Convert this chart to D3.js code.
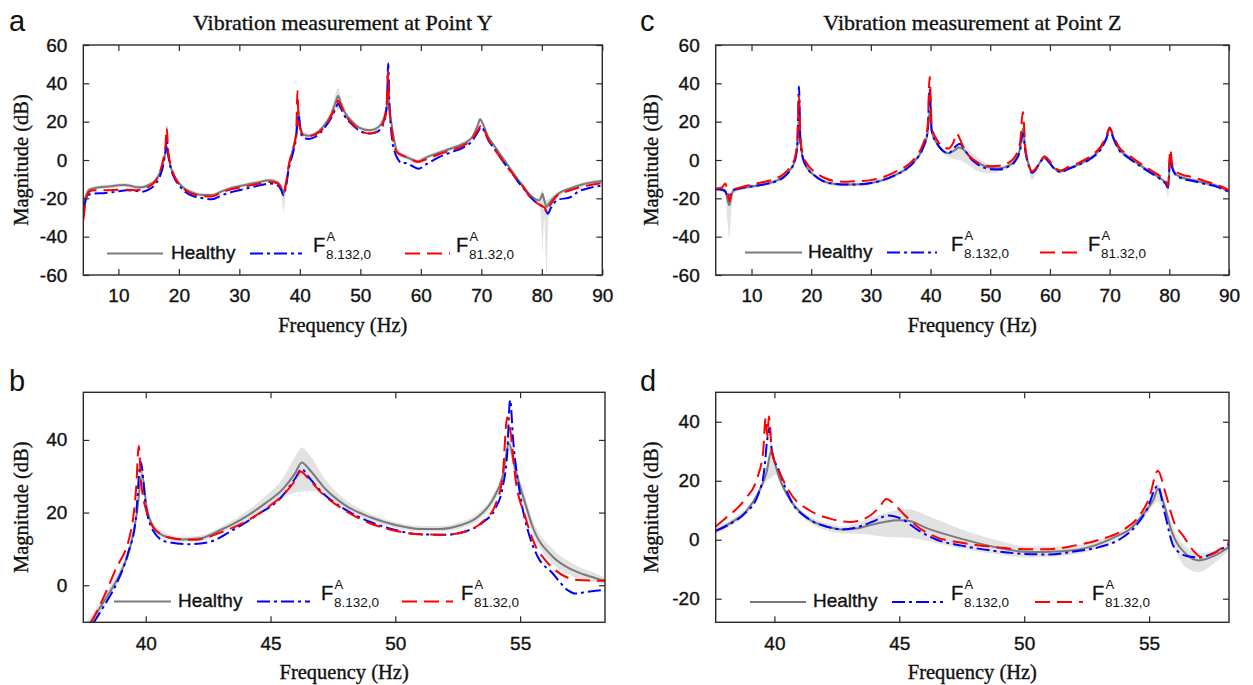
<!DOCTYPE html>
<html><head><meta charset="utf-8">
<script src="https://cdn.jsdelivr.net/npm/d3@7"></script>
<style>body{margin:0;background:#fff}svg{display:block}</style>
</head><body>
<svg id="chart" width="1253" height="685"></svg>
<script>
// ---------- DATA ----------
// healthy entries: [freq, mean dB, band lower dB, band upper dB]
const aHealthy = [[4.2,-24,-28,-21],[4.6,-19,-21,-17],[5.2,-15.5,-17,-14.5],[6,-14.7,-15.7,-13.7],[7,-14.2,-15.2,-13.2],[8.5,-13.8,-14.8,-12.8],[10,-13.2,-14.2,-12.2],[11,-13,-14,-12],[12,-13.4,-14.4,-12.4],[13,-14.2,-15.2,-13.2],[14,-14.2,-15.2,-13.2],[15,-13,-14,-12],[16,-11,-12,-10],[16.8,-7,-8,-6],[17.4,-1,-2,0],[17.8,4,2,6],[18.0,7,5,9],[18.2,3,1,5],[18.6,-3,-4,-2],[19.2,-8,-9,-7],[20,-12,-13,-11],[21,-15,-16,-14],[22.5,-17.3,-18.3,-16.3],[24,-18.3,-19.3,-17.3],[25.5,-18.3,-19.3,-17.3],[27,-16.5,-17.5,-15.5],[29,-14.3,-15.3,-13.3],[31,-13,-14,-12],[33,-11.7,-12.7,-10.7],[35,-10.6,-11.6,-9.6],[36.2,-11.5,-12.5,-10.5],[36.9,-14,-16,-12.5],[37.3,-17.5,-27,-15],[37.7,-13,-17,-11],[38.2,-3,-5,-1],[38.8,5,3,7],[39.4,14,12,16],[39.75,26,22,28],[40.1,17,15,19],[40.6,13.2,12,14.5],[41.5,12.6,11.5,13.8],[42.5,13.6,12.6,14.6],[44,18,17,19.5],[45.2,24,22.5,26.5],[46,31,27,35.5],[46.3,33.5,26,38],[46.7,30.5,26.5,34],[47.5,24.5,23,26.5],[48.5,20.5,19.5,21.5],[50,16.6,15.6,17.6],[51.5,15.5,14.5,16.5],[52.5,16.2,15.2,17.2],[53.5,19,18,20],[54.1,24,22.5,25.5],[54.5,30,27,33],[54.65,33,29,35],[54.9,25,23,27],[55.4,14,12.5,15.5],[56,5,3.5,7],[56.7,2.8,1.5,4.5],[58,1,0,2.5],[59.5,-0.7,-1.7,0.5],[61,1.5,0.5,2.5],[63,3.8,2.8,4.8],[65,6,5,7],[67,8.5,7.5,9.5],[68.5,12,11,13],[69.4,18,17,19],[69.8,21.2,20,22.2],[70.3,18.5,17.5,19.5],[71,13,12,14],[72,8,7,9],[73,3.5,2.5,4.5],[74,-1,-2,0],[75,-5.5,-6.5,-4.5],[76,-10,-11,-9],[77,-14,-15,-13],[78,-18,-19.5,-17],[79,-20.5,-22,-19.5],[79.6,-21,-24,-19.5],[80.0,-18.5,-40,-16],[80.1,-17.6,-48,-15],[80.4,-21,-30,-19],[80.8,-24.5,-60,-21],[81.1,-23,-30,-20.5],[82,-19.5,-21,-18],[83,-17,-18.5,-16],[85,-14.5,-15.5,-13.5],[87,-12.5,-13.5,-11.5],[90,-11,-12,-10]];
const aF8 = [[4.2,-27],[4.6,-21],[5.2,-18],[6,-17.5],[7.5,-17.3],[9,-16.8],[10,-16.3],[11.5,-15.8],[13,-16.2],[14,-16.5],[15,-15.5],[16,-13],[16.8,-9],[17.4,-3],[17.8,5],[18.0,11],[18.2,4],[18.6,-3.5],[19.2,-9],[20,-13],[21,-16.5],[22.5,-19],[24,-20],[25.5,-20.5],[27,-18.5],[29,-16.5],[31,-15],[33,-13.5],[35,-12.3],[36.2,-13],[36.9,-15.5],[37.3,-18.4],[37.7,-14],[38.2,-4],[38.8,3],[39.4,12],[39.75,23.5],[40.1,15],[40.6,11.5],[41.5,11],[42.5,12],[44,16.5],[45.2,22],[46,27.5],[46.3,29.5],[46.7,27.5],[47.5,22.5],[48.5,19],[50,15],[51.5,13.8],[52.5,14.3],[53.5,17],[54.1,22],[54.4,30],[54.6,50.3],[54.8,30],[55.2,12],[55.7,4],[56.3,0],[56.9,-1.9],[57.5,-1.5],[58.5,-3],[59.6,-4.5],[61,-2],[63,1.5],[65,4],[67,6.5],[68.5,10],[69.5,15],[70,17.2],[70.5,15],[71.2,10],[72,6.5],[73,2],[74,-2.5],[75,-6.5],[76,-11],[77,-15],[78,-19],[79,-22],[80,-24],[80.5,-25.5],[81,-28],[81.5,-25],[82.5,-21],[84.8,-19.3],[86,-16.5],[88,-14.5],[90,-13.3]];
const aF81 = [[4.2,-31.5],[4.6,-22],[5.2,-16.5],[6,-15.8],[8,-15.8],[10,-15.5],[12,-15.5],[13,-15.8],[14,-15],[15,-14],[16,-11.5],[16.8,-7],[17.4,0],[17.8,8],[18.0,17],[18.2,6],[18.6,-2],[19.2,-8],[20,-12.5],[21,-15.5],[22.5,-18],[24,-18.8],[25.5,-19],[27,-17],[29,-15],[31,-13.8],[33,-12.5],[35,-11.5],[36.2,-12],[36.9,-14.5],[37.3,-17],[37.7,-12],[38.2,-2],[38.8,5],[39.4,14],[39.6,36],[39.8,20],[40.1,16],[40.6,13],[41.5,12.5],[42.5,13.2],[44,17],[45.2,23],[46,29],[46.3,31.1],[46.7,29],[47.5,23.5],[48.5,19.5],[50,15.2],[51.5,13.8],[52.5,14.5],[53.5,17.5],[54.1,23],[54.4,32],[54.55,46],[54.8,28],[55.2,15],[55.7,6],[56.3,3.3],[57,2.4],[58,1],[59.5,-1],[61,0.5],[63,3],[65,5],[67,7.5],[68.5,11],[69.5,16],[70,18.1],[70.5,15.5],[71.2,10.5],[72,6.5],[73,2],[74,-2.5],[75,-6.5],[76,-10.5],[77,-14.5],[78,-19],[79,-22],[80,-24],[80.5,-25],[80.8,-27.2],[81.3,-24],[82.4,-19],[84,-16.5],[86,-14.5],[88,-13],[90,-12]];

const cHealthy = [[4,-15,-16,-14],[5,-15.3,-16.5,-14.5],[5.6,-16,-18,-15],[6.0,-21,-33,-18],[6.3,-23.6,-41,-19],[6.6,-19,-27,-16.5],[7,-16,-18,-15],[8,-15,-16,-14],[10,-13.8,-14.8,-12.8],[12,-12.8,-13.8,-11.8],[14,-11,-12,-10],[15.5,-8.5,-9.5,-7.5],[16.5,-5,-6,-4],[17.3,0,-1,1],[17.7,8,6,10],[17.95,22.4,18,41],[18.2,9,7,11],[18.6,1,0,2],[19.3,-4,-5,-3],[20.5,-8,-9,-7],[22,-11,-12,-10],[24,-12.5,-13.5,-11.5],[26,-12.8,-13.8,-11.8],[28,-12.7,-13.7,-11.7],[30,-12,-13,-11],[32,-10.5,-11.5,-9.5],[34,-8,-9,-7],[36,-4.5,-5.5,-3.5],[37.5,0,-1,1],[38.7,6,5,7],[39.5,14,12,16],[39.85,25,21,36],[40.2,15,13,17],[41,9,8,10],[42,5,4,6],[43,3.5,1.5,4.5],[44,5,0.5,7],[44.8,6.5,0,9],[45.5,5.5,-1,8],[46.5,2,-3,5],[48,-1.5,-6,1],[50,-4,-7,-2.5],[51.5,-4.3,-6,-3],[53,-3,-4.5,-2],[54.2,0,-1,1],[55,6,4.5,7.5],[55.45,16.3,13,19],[55.9,5,3,6.5],[56.5,-3,-6,-2],[57,-6.5,-10.5,-5],[57.6,-5,-8,-4],[58.5,-0.5,-2,0.5],[59.1,1,0,2],[59.8,-1,-2,0],[60.8,-4.5,-5.5,-3.5],[61.8,-6,-7,-5],[63,-4.5,-5.5,-3.5],[65,-2,-3,-1],[67,1.5,0.5,2.5],[68.5,6,5,7],[69.5,12,11,13],[70,16.5,15.5,17.5],[70.6,12,11,13],[71.5,6,5,7],[73,2,1,3],[75,-2.5,-3.5,-1.5],[77,-6.5,-7.5,-5.5],[78.5,-9.5,-10.5,-8.5],[79.4,-12,-13.5,-11],[79.8,-14,-20,-12.5],[80.15,0,-2,3],[80.5,-4,-5,-3],[81,-7,-8,-6],[82,-9,-10,-8],[84,-10.5,-11.5,-9.5],[86,-12,-13,-11],[88,-13.5,-14.5,-12.5],[90,-16.5,-17.5,-15.5]];
const cF8 = [[4,-15.2],[5,-15.5],[5.6,-16.5],[6.0,-18.5],[6.3,-19],[6.6,-17],[7,-15.5],[8,-14.8],[10,-13.8],[12,-12.8],[14,-11.2],[15.5,-8.8],[16.5,-5.2],[17.3,0],[17.7,10],[17.95,38.4],[18.2,10],[18.6,1],[19.3,-4],[20.5,-8],[22,-11],[24,-12.5],[26,-12.8],[28,-12.7],[30,-12],[32,-10.5],[34,-8],[36,-4.5],[37.5,0],[38.7,6],[39.5,15],[39.85,37],[40.2,15],[41,9],[42,5],[43,3.5],[44,6.5],[44.9,8.5],[45.6,6],[46.5,1.5],[48,-2.5],[50,-4.8],[51.5,-5],[53,-3.5],[54.2,-0.5],[55,5],[55.45,14],[55.9,4],[56.5,-3.5],[57,-6.8],[57.6,-5],[58.5,-0.5],[59.1,1.2],[59.8,-1],[60.8,-4.8],[61.8,-6.3],[63,-4.8],[65,-2.3],[67,1],[68.5,5.5],[69.5,11.5],[70,16.2],[70.6,11.5],[71.5,5.5],[73,1.5],[75,-3],[77,-7],[78.5,-10],[79.4,-12.5],[79.8,-14.5],[80.15,2.4],[80.5,-4],[81,-7.5],[82,-9.5],[84,-11],[86,-12.5],[88,-14],[90,-16.7]];
const cF81 = [[4,-15],[5,-14.5],[5.6,-12.3],[6.0,-17],[6.3,-21.5],[6.6,-18],[7,-15.5],[8,-14.5],[10,-12.8],[12,-11.5],[14,-9.8],[15.5,-7],[16.5,-3.5],[17.3,1.5],[17.7,12],[17.95,33.7],[18.2,12],[18.6,3],[19.3,-2],[20.5,-6],[22,-9],[24,-11],[26,-11.3],[28,-11],[30,-10.5],[32,-9],[34,-6.3],[36,-3],[37.5,1.5],[38.7,8],[39.5,17],[39.85,43.5],[40.2,17],[41,11],[42,7],[43,6],[43.8,9],[44.4,13.8],[44.9,11],[45.6,6],[46.5,2],[48,-1.5],[50,-3.2],[51.5,-3],[53,-1.5],[54.2,2],[55,9],[55.45,25],[55.9,6],[56.5,-3],[57,-6],[57.6,-4.5],[58.5,0],[59.1,2],[59.8,0],[60.8,-4],[61.8,-5.5],[63,-3.8],[65,-1.2],[67,2.5],[68.5,7],[69.5,13],[70,17],[70.6,13],[71.5,7],[73,3],[75,-1.5],[77,-5.5],[78.5,-8.5],[79.4,-11],[79.8,-13.5],[80.15,5.5],[80.5,-2.5],[81,-5.5],[82,-7.5],[84,-9],[86,-11],[88,-13],[90,-15.8]];

const bHealthy = [[37.5,-13,-14.5,-11.5],[38.0,-8,-9.5,-6.5],[38.5,-2.5,-4,-1],[39.0,3.5,2.5,5],[39.4,11,10,12.5],[39.65,20,19,21.5],[39.85,30.5,29,32],[40.05,21,20,22.5],[40.35,15.7,14.7,16.7],[40.8,13.4,12.6,14.4],[41.5,12.6,11.9,13.4],[42.2,12.9,12.2,13.7],[43,15.2,14.4,16],[43.8,18,17,19.2],[44.8,22.6,21,24.5],[45.5,26.5,24,29.5],[46.0,31,25.5,35.5],[46.25,33.8,25.8,37.9],[46.6,31.5,26,35.5],[47.2,26.5,25,29],[48.0,22,21,23.5],[49,18.7,17.8,19.7],[50,16.6,15.8,17.4],[51,15.5,14.8,16.3],[51.8,15.5,14.8,16.3],[52.6,16.5,15.7,17.4],[53.3,18.8,17.8,19.9],[53.9,23.5,22.3,24.8],[54.3,30,28.5,31.5],[54.55,39,37,41],[54.8,32,30,34],[55.2,22.6,21,24.5],[55.5,16.1,14.5,18],[56.3,7.9,6,10],[57.1,4.2,2.5,6],[58,2,0.8,3.3],[58.4,1.2,0.2,2.2]];
const bF8 = [[37.9,-10.5],[38.3,-6],[38.8,0],[39.3,9],[39.6,18],[39.8,34],[40.0,22],[40.3,15],[40.8,12],[41.8,11.3],[42.6,12],[43.4,14.8],[44.5,19.5],[45.4,24],[46.0,29.5],[46.25,32],[46.5,30],[47,26],[48,20.8],[49,17.4],[50,15.2],[51,14],[52,13.9],[52.8,14.8],[53.5,17.3],[54.0,21],[54.3,27],[54.48,36],[54.6,51],[54.72,40],[55.0,25],[55.4,13],[55.7,7.9],[56.3,3.3],[56.9,-1.3],[57.2,-2.3],[57.7,-1.8],[58.4,-1.3]];
const bF81 = [[37.8,-10.5],[38.2,-5],[38.76,3.8],[39.43,15.7],[39.62,27],[39.72,38.3],[39.82,28],[40.1,19],[40.5,14.5],[41.2,12.8],[42,12.5],[43,14.5],[44,17.5],[45,22],[45.6,25.5],[46.0,29],[46.2,31.3],[46.5,29.5],[47,25.7],[48,20.5],[49,17],[50,15],[51,14],[52,13.9],[52.8,14.8],[53.5,17.5],[54.0,22],[54.3,30],[54.48,46.2],[54.62,42],[54.8,30],[55.2,19],[55.6,11],[56.0,7],[56.8,2.4],[57.2,1.5],[58.4,1.2]];

const dHealthy = [[37.65,3,2,4],[38.3,6,5,7],[38.83,9.3,8.3,10.3],[39.36,16,15,17],[39.69,23,20,25],[39.87,30,21,33],[40.05,25,22,27],[40.2,21,19.5,22.5],[40.7,12.7,11.7,13.7],[41.36,7.1,6,8.2],[42.16,4.3,3,5.5],[42.7,3.5,2.2,4.5],[43.3,3.8,2,5.5],[43.76,4.8,1.8,7],[44.4,6,1,9],[44.9,6.6,0.8,10],[45.3,6.5,0.8,10.4],[46.17,3.7,-0.5,8],[47.5,0.3,-3,3.5],[48.84,-2.5,-4.8,0],[50.17,-4.2,-6,-2.3],[51.5,-3.9,-5.5,-2.3],[52.84,-1.9,-3.3,-0.6],[53.6,0.8,-0.5,2],[54.25,3.7,2.5,5],[54.8,9,7.5,10.5],[55.2,14,12,16],[55.35,17.2,13,19],[55.6,12,9,14],[55.9,3,0,5.5],[56.5,-5,-9.5,-2.5],[57.0,-7,-11,-4.5],[57.6,-5.5,-8,-4],[58.2,-2.5,-3.5,-1.5]];
const dF8 = [[37.65,3],[38.3,5.7],[38.83,9],[39.36,15.5],[39.6,24],[39.7,33],[39.8,38],[39.9,30],[40.16,23.9],[40.7,12.7],[41.36,7.1],[42.16,4.3],[42.7,3.5],[43.3,4.2],[43.9,6],[44.56,8.2],[45.1,7],[45.8,3],[46.5,0],[47.5,-2],[48.8,-3.8],[50,-4.8],[51,-5],[52,-4],[53,-2.5],[53.8,0],[54.4,4],[54.9,10],[55.35,18.3],[55.6,10],[56.0,-2.5],[56.5,-5.5],[57.0,-6],[57.6,-4.5],[58.2,-1.6]];
const dF81 = [[37.65,4.5],[38.02,7.1],[38.83,13.8],[39.3,20.6],[39.55,30],[39.65,41.3],[39.72,35],[39.78,41.9],[39.9,30],[40.2,23],[40.7,15],[41.4,10],[42.3,7],[43,6],[43.7,7.5],[44.2,11],[44.48,13.8],[44.8,12],[45.2,8.5],[45.8,4],[46.5,0.8],[47.5,-1],[48.8,-2.5],[50,-3.2],[51,-3.2],[52,-2],[53,0],[54,3.5],[54.6,8],[55.0,14],[55.35,23.4],[55.65,16],[56,6],[56.4,0.9],[56.8,-4],[57.1,-5.9],[57.6,-4.5],[58.2,-0.8]];

const wideXTicks = [10,20,30,40,50,60,70,80,90];
const wideYTicks = [-60,-40,-20,0,20,40,60];
const zoomXTicks = [40,45,50,55];
const bYTicks = [0,20,40];
const dYTicks = [-20,0,20,40];
const titles = ['Vibration measurement at Point Y','Vibration measurement at Point Z'];
const legendNames = ['Healthy','8.132,0','81.32,0'];

// ---------- LAYOUT ----------
const panels = [
  {letter:'a', lx:9,  ly:31, title:titles[0], H:aHealthy, B:aF8, R:aF81, xd:[4.2,90],  yd:[-60,60], xt:wideXTicks, yt:wideYTicks, x0:83.3, x1:602.3, y0:45, y1:275, ylx:21,
   leg:{y:253.5, g:[107,163], t:171, b:[250,302], f1:313, r:[405,450], f2:456}},
  {letter:'c', lx:640, ly:31, title:titles[1], H:cHealthy, B:cF8, R:cF81, xd:[4,90], yd:[-60,60], xt:wideXTicks, yt:wideYTicks, x0:715.7, x1:1229, y0:45, y1:275, ylx:651,
   leg:{y:252.5, g:[745,802], t:808, b:[887,937], f1:951, r:[1040,1083], f2:1088}},
  {letter:'b', lx:9,  ly:391, title:null, H:bHealthy, B:bF8, R:bF81, xd:[37.5,58.4], yd:[-10.2,53.1], xt:zoomXTicks, yt:bYTicks, x0:83.3, x1:605, y0:392.3, y1:622.3, ylx:21,
   leg:{y:601.5, g:[114,171], t:178, b:[257,310], f1:321, r:[402,453], f2:461}},
  {letter:'d', lx:640, ly:391, title:null, H:dHealthy, B:dF8, R:dF81, xd:[37.65,58.2], yd:[-28,50], xt:zoomXTicks, yt:dYTicks, x0:715.7, x1:1229, y0:392.3, y1:622.3, ylx:651,
   leg:{y:602, g:[750,806], t:813, b:[892,943], f1:951, r:[1035,1083], f2:1092}}
];

const svg = d3.select('#chart');
const SANS = 'Liberation Sans, Arial, sans-serif';
const SERIF = 'Liberation Serif, Times New Roman, serif';
const GRAY = '#7a7a7a', BLUE = '#0000ff', RED = '#ff0000', BAND = '#e2e2e2', AX = '#2a2a2a', INK = '#111';
const BLUE_DASH = '13,4,3,4', RED_DASH = '15,7';
const thick = s => s.attr('stroke', INK).attr('stroke-width', 0.35);

panels.forEach((p, i) => {
  const x = d3.scaleLinear().domain(p.xd).range([p.x0, p.x1]);
  const y = d3.scaleLinear().domain(p.yd).range([p.y1, p.y0]);
  const g = svg.append('g');
  const cid = 'clip' + i;
  g.append('clipPath').attr('id', cid).append('rect')
    .attr('x', p.x0).attr('y', p.y0).attr('width', p.x1 - p.x0).attr('height', p.y1 - p.y0);
  const plot = g.append('g').attr('clip-path', `url(#${cid})`);

  const area = d3.area().x(d => x(d[0])).y0(d => y(d[2])).y1(d => y(d[3])).curve(d3.curveMonotoneX);
  const line = d3.line().x(d => x(d[0])).y(d => y(d[1])).curve(d3.curveMonotoneX);

  plot.append('path').datum(p.H).attr('d', area).attr('fill', BAND).attr('stroke', 'none');
  plot.append('path').datum(p.H).attr('d', line).attr('fill', 'none').attr('stroke', GRAY).attr('stroke-width', 2);
  plot.append('path').datum(p.B).attr('d', line).attr('fill', 'none').attr('stroke', BLUE).attr('stroke-width', 2).attr('stroke-dasharray', BLUE_DASH);
  plot.append('path').datum(p.R).attr('d', line).attr('fill', 'none').attr('stroke', RED).attr('stroke-width', 2).attr('stroke-dasharray', RED_DASH);

  // axes (inward ticks, mirrored on all sides)
  const tl = 6;
  const fmt = d => String(d);
  const axB = d3.axisBottom(x).tickValues(p.xt).tickFormat(fmt).tickSizeInner(-tl).tickSizeOuter(0).tickPadding(14);
  const axT = d3.axisTop(x).tickValues(p.xt).tickSizeInner(-tl).tickSizeOuter(0).tickFormat('');
  const axL = d3.axisLeft(y).tickValues(p.yt).tickFormat(fmt).tickSizeInner(-tl).tickSizeOuter(0).tickPadding(16);
  const axR = d3.axisRight(y).tickValues(p.yt).tickSizeInner(-tl).tickSizeOuter(0).tickFormat('');
  const gb = g.append('g').attr('transform', `translate(0,${p.y1})`).call(axB);
  const gt = g.append('g').attr('transform', `translate(0,${p.y0})`).call(axT);
  const gl = g.append('g').attr('transform', `translate(${p.x0},0)`).call(axL);
  const gr = g.append('g').attr('transform', `translate(${p.x1},0)`).call(axR);
  [gb, gt, gl, gr].forEach(a => {
    a.select('.domain').remove();
    a.selectAll('line').attr('stroke', AX).attr('stroke-width', 1.2);
    a.selectAll('text').attr('font-family', SANS).attr('font-size', 19).attr('fill', INK).call(thick);
  });
  g.append('rect').attr('x', p.x0).attr('y', p.y0).attr('width', p.x1 - p.x0).attr('height', p.y1 - p.y0)
    .attr('fill', 'none').attr('stroke', AX).attr('stroke-width', 1.4);

  // labels
  g.append('text').attr('x', p.lx).attr('y', p.ly).text(p.letter)
    .attr('font-family', SANS).attr('font-size', 29).attr('fill', INK);
  if (p.title) g.append('text').attr('x', (p.x0 + p.x1) / 2).attr('y', 30).attr('text-anchor', 'middle')
    .text(p.title).attr('font-family', SERIF).attr('font-size', 22).attr('fill', INK).call(thick);
  g.append('text').attr('x', (p.x0 + p.x1) / 2).attr('y', p.y1 + 57).attr('text-anchor', 'middle')
    .text('Frequency (Hz)').attr('font-family', SERIF).attr('font-size', 20.5).attr('fill', INK).call(thick);
  g.append('text').attr('transform', `translate(${p.ylx + 7},${(p.y0 + p.y1) / 2}) rotate(-90)`).attr('text-anchor', 'middle')
    .text('Magnitude (dB)').attr('font-family', SERIF).attr('font-size', 20.5).attr('fill', INK).call(thick);

  // legend
  const L = p.leg;
  const lg = g.append('g');
  lg.append('line').attr('x1', L.g[0]).attr('x2', L.g[1]).attr('y1', L.y).attr('y2', L.y).attr('stroke', GRAY).attr('stroke-width', 2);
  lg.append('text').attr('x', L.t).attr('y', L.y + 5).text(legendNames[0]).attr('font-family', SANS).attr('font-size', 19).attr('fill', INK).call(thick);
  lg.append('line').attr('x1', L.b[0]).attr('x2', L.b[1]).attr('y1', L.y).attr('y2', L.y).attr('stroke', BLUE).attr('stroke-width', 2).attr('stroke-dasharray', BLUE_DASH);
  lg.append('line').attr('x1', L.r[0]).attr('x2', L.r[1]).attr('y1', L.y).attr('y2', L.y).attr('stroke', RED).attr('stroke-width', 2).attr('stroke-dasharray', RED_DASH);
  [[L.f1, legendNames[1]], [L.f2, legendNames[2]]].forEach(([fx, sub]) => {
    lg.append('text').attr('x', fx).attr('y', L.y - 2).text('F').attr('font-family', SANS).attr('font-size', 20).attr('fill', INK).call(thick);
    lg.append('text').attr('x', fx + 13.5).attr('y', L.y - 13).text('A').attr('font-family', SANS).attr('font-size', 13).attr('fill', INK);
    lg.append('text').attr('x', fx + 13).attr('y', L.y + 5).text(sub).attr('font-family', SANS).attr('font-size', 13.5).attr('fill', INK);
  });
});
</script>
</body></html>
